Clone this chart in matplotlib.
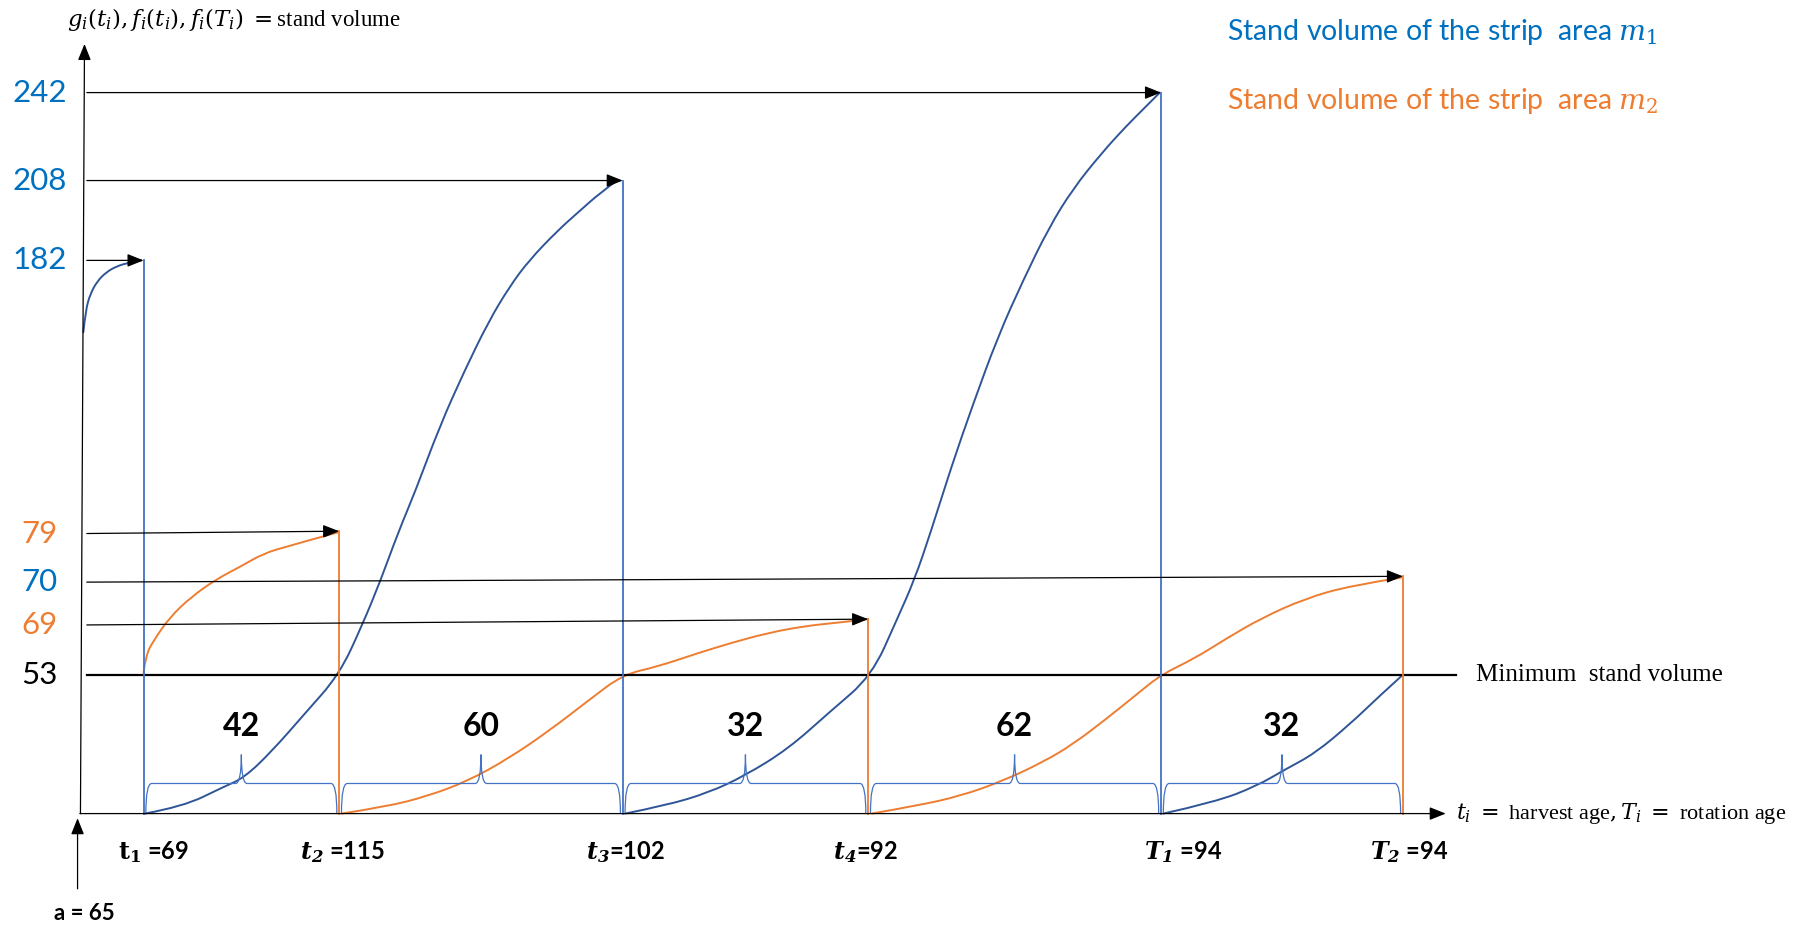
import matplotlib.pyplot as plt
from matplotlib.path import Path
from matplotlib.patches import PathPatch

plt.rcParams['mathtext.fontset'] = 'dejavuserif'

BLUE_TXT = '#0070C0'
ORANGE = '#ED7D31'
NAVY = '#2F5597'
BLUE_LN = '#4472C4'

"""
D A T A  (diagram units, read off the reference)
"""
# harvest / rotation ages along the time axis
age_labels = [r'$\mathbf{t_1}$ =69', r'$\mathbfit{t_2}$ =115', r'$\mathbfit{t_3}$=102',
              r'$\mathbfit{t_4}$=92', r'$\mathbfit{T_1}$ =94', r'$\mathbfit{T_2}$ =94']
age_x = [124, 293, 538, 750, 1003, 1212]
age_label_x = [133, 296, 540, 748, 1022, 1217]

# stand volume levels on the vertical axis
vol_values = [242, 208, 182, 79, 70, 69, 53]
vol_colors = [BLUE_TXT, BLUE_TXT, BLUE_TXT, ORANGE, BLUE_TXT, ORANGE, 'black']
vol_y = [80, 156, 225, 461, 503, 540, 583]
# arrow from each level (except the minimum) to the harvest it belongs to
arrow_to = [4, 2, 0, 1, 5, 3]
arrow_end_y = [80, 156, 225, 459, 498, 535]

# length of each period between harvests
period_len = [42, 60, 32, 62, 32]

# growth curves, strip m1 (blue) and strip m2 (orange)
blue_curves = [
    ([72, 74, 78, 84, 92, 101, 111, 122],
     [287, 268, 254, 243, 235, 230, 227, 225]),
    ([125, 158, 193, 211, 235, 263, 293, 313, 329, 344, 359, 380, 401, 422, 440, 457, 482, 500, 518, 533],
     [703, 697, 680, 672, 649, 617, 583, 540, 501, 460, 424, 368, 321, 278, 248, 225, 199, 183, 167, 156]),
    ([540, 575, 612, 644, 681, 717, 753, 775, 790, 804, 822, 840, 862, 884, 906, 927, 952, 972, 989, 1002],
     [703, 696, 685, 670, 647, 615, 584, 535, 501, 460, 403, 351, 291, 242, 197, 163, 132, 110, 93, 80]),
    ([1005, 1050, 1086, 1110, 1136, 1167, 1190, 1212],
     [703, 693, 679, 665, 651, 625, 603, 583]),
]
orange_curves = [
    ([124, 126, 133, 147, 165, 186, 207, 228, 249, 270, 292],
     [581, 566, 553, 533, 516, 501, 490, 478, 472, 466, 460]),
    ([295, 334, 369, 404, 440, 475, 510, 538, 568, 601, 630, 663, 695, 724, 750],
     [703, 697, 688, 675, 655, 631, 604, 583, 576, 565, 556, 547, 541, 538, 535]),
    ([753, 793, 829, 866, 902, 927, 956, 982, 1003, 1032, 1059, 1090, 1128, 1167, 1211],
     [703, 696, 688, 675, 658, 643, 621, 600, 583, 569, 552, 534, 517, 506, 499]),
]

"""
F I G U R E
"""
fig = plt.figure(figsize=(18.15, 9.27), dpi=100)
ax = fig.add_axes([0, 0, 1, 1])
ax.set_xlim(0, 1568)
ax.set_ylim(801, 0)
ax.axis('off')

base_y = 703
min_y = vol_y[-1]
arrow_kw = dict(arrowstyle='-|>,head_length=0.55,head_width=0.22', color='black',
                lw=0.9, mutation_scale=18, shrinkA=0, shrinkB=0)

# axes with arrows
ax.annotate('', xy=(73, 38), xytext=(69.5, base_y), arrowprops=arrow_kw)
ax.annotate('', xy=(1249, base_y), xytext=(69, base_y), arrowprops=arrow_kw)
ax.annotate('', xy=(67, 707), xytext=(67, 768), arrowprops=arrow_kw)

# minimum stand volume line
ax.plot([75, 1258], [min_y, min_y], color='black', lw=1.6)

# level arrows
for i, k in enumerate(arrow_to):
    ax.annotate('', xy=(age_x[k], arrow_end_y[i]), xytext=(75, vol_y[i]), arrowprops=arrow_kw)

# harvest drop lines
for k in range(len(age_x)):
    i = arrow_to.index(k)
    col = BLUE_LN if k % 2 == 0 else ORANGE
    ax.plot([age_x[k], age_x[k]], [arrow_end_y[i], base_y], color=col, lw=1.3)


# smooth curve through the read points (quadratic spline, drawn by matplotlib)
def smooth(xs, ys, color):
    pts = list(zip(xs, ys))
    verts = [pts[0]]
    codes = [Path.MOVETO]
    for i in range(1, len(pts) - 1):
        if i < len(pts) - 2:
            end = ((pts[i][0] + pts[i + 1][0]) / 2, (pts[i][1] + pts[i + 1][1]) / 2)
        else:
            end = pts[-1]
        verts += [pts[i], end]
        codes += [Path.CURVE3, Path.CURVE3]
    ax.add_patch(PathPatch(Path(verts, codes), fc='none', ec=color, lw=1.4, capstyle='round'))


for xs, ys in blue_curves:
    smooth(xs, ys, NAVY)
for xs, ys in orange_curves:
    smooth(xs, ys, ORANGE)


# braces for the periods
def brace(x0, x1, y_bot, y_bar, y_tip, r=5):
    xm = (x0 + x1) / 2
    verts = [(x0, y_bot), (x0, y_bar), (x0 + r, y_bar),
             (xm - r, y_bar), (xm, y_bar), (xm, y_tip),
             (xm, y_bar), (xm + r, y_bar),
             (x1 - r, y_bar), (x1, y_bar), (x1, y_bot)]
    codes = [Path.MOVETO, Path.CURVE3, Path.CURVE3, Path.LINETO, Path.CURVE3, Path.CURVE3,
             Path.CURVE3, Path.CURVE3, Path.LINETO, Path.CURVE3, Path.CURVE3]
    ax.add_patch(PathPatch(Path(verts, codes), fc='none', ec=BLUE_LN, lw=0.9))
    return xm


for i, n in enumerate(period_len):
    xm = brace(age_x[i] + 2, age_x[i + 1] - 2, base_y, 677, 652)
    ax.text(xm, 628, str(n), ha='center', va='center', fontsize=23, fontweight='bold',
            family='Lato', color='black')

# texts
for v, c, y in zip(vol_values, vol_colors, vol_y):
    ax.text(34, y, str(v), ha='center', va='center', fontsize=22.5, family='Lato', color=c)

for lab, x in zip(age_labels, age_label_x):
    ax.text(x, 736, lab, ha='center', va='center', fontsize=17, fontweight='bold', family='Lato')
ax.text(73, 789, 'a = 65', ha='center', va='center', fontsize=16, fontweight='bold', family='Lato')

ax.text(58, 17, r'$g_i(t_i), f_i(t_i), f_i(T_i)$ $=$stand volume', ha='left', va='center',
        fontsize=16.5, family='Liberation Serif')
ax.text(1258, 703, r'$t_i$ $=$ harvest age$,$$T_i$ $=$ rotation age', ha='left', va='center',
        fontsize=16, family='Liberation Serif')
ax.text(1275, 583, 'Minimum  stand volume', ha='left', va='center', fontsize=18,
        family='Liberation Serif')

ax.text(1060, 28, r'Stand volume of the strip  area $m_1$', ha='left', va='center',
        fontsize=20.5, family='Lato', color=BLUE_TXT)
ax.text(1060, 87, r'Stand volume of the strip  area $m_2$', ha='left', va='center',
        fontsize=20.5, family='Lato', color=ORANGE)

fig.savefig('out.png', dpi=100)
